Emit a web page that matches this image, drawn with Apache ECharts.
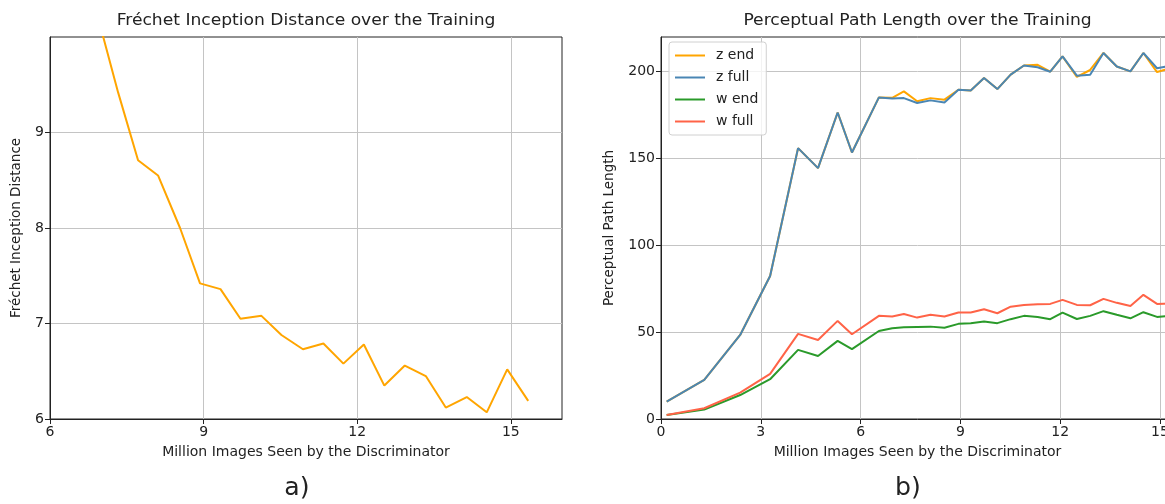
<!DOCTYPE html>
<html>
<head>
<meta charset="utf-8">
<script src="https://cdn.jsdelivr.net/npm/echarts@6/dist/echarts.min.js"></script>
<style>
  html, body { margin: 0; padding: 0; background: #fff; overflow: hidden; width: 1165px; height: 504px; }
  #chart { width: 1200px; height: 504px; }
</style>
</head>
<body>
<div id="chart"></div>
<script>
// Fréchet Inception Distance during training
const fidX = [6.93, 7.33, 7.72, 8.11, 8.54, 8.93, 9.33, 9.72, 10.13, 10.52, 10.94, 11.34, 11.73, 12.13, 12.53, 12.93, 13.34, 13.73, 14.14, 14.53, 14.93, 15.34];
const fidY = [10.22, 9.42, 8.71, 8.55, 8.0, 7.42, 7.36, 7.05, 7.08, 6.88, 6.73, 6.79, 6.58, 6.78, 6.35, 6.56, 6.45, 6.12, 6.23, 6.07, 6.52, 6.19];

// Perceptual Path Length during training
const pplX  = [0.17, 1.30, 2.38, 3.28, 4.12, 4.72, 5.31, 5.74, 6.55, 6.95, 7.30, 7.70, 8.10, 8.52, 8.94, 9.31, 9.71, 10.11, 10.51, 10.91, 11.32, 11.70, 12.07, 12.50, 12.90, 13.30, 13.70, 14.11, 14.50, 14.91, 15.31];
const zEnd  = [10.0, 22.5, 48.4, 82.4, 156, 144.5, 176.5, 153.5, 185.2, 185, 188.7, 183, 184.8, 183.9, 189.6, 189.2, 196.4, 190, 198.3, 203.6, 204, 200, 208.8, 197, 201, 210.8, 203, 200.2, 210.8, 199.8, 202];
const zFull = [10.0, 22.5, 48.4, 82.4, 156, 144.5, 176.5, 153.5, 185.2, 184.6, 184.8, 182, 183.5, 182.3, 189.6, 189.2, 196.4, 190, 198.3, 203.6, 202.6, 200, 208.8, 197.7, 198.3, 210.8, 203, 200.2, 210.8, 202, 203.5];
const wEnd  = [2.3, 5.4, 13.8, 22.9, 39.8, 36.3, 45, 40.2, 50.7, 52.3, 52.8, 53, 53.2, 52.6, 54.8, 55.2, 56.1, 55.2, 57.5, 59.4, 58.8, 57.5, 61.3, 57.6, 59.4, 62.1, 60, 58, 61.5, 58.8, 59.4];
const wFull = [2.3, 6.2, 15.2, 26, 49, 45.5, 56.5, 48.8, 59.4, 59, 60.5, 58.4, 60, 59, 61.3, 61.3, 63.2, 60.9, 64.7, 65.7, 66.1, 66.3, 68.6, 65.7, 65.5, 69.2, 66.9, 65.1, 71.5, 66.3, 66.5];

const fidXTicks = [6, 9, 12, 15];
const fidYTicks = [6, 7, 8, 9];
const pplXTicks = [0, 3, 6, 9, 12, 15];
const pplYTicks = [0, 50, 100, 150, 200];

const FONT = 'DejaVu Sans';
const INK = '#222';
const GRIDC = '#c4c4c4';

const pairs = (xs, ys) => xs.map((x, i) => [x, ys[i]]);

function valueAxis(gridIndex, min, max, ticks, name, nameGap, nameSize) {
  return {
    type: 'value',
    gridIndex: gridIndex,
    min: min,
    max: max,
    name: name,
    nameLocation: 'middle',
    nameGap: nameGap,
    nameTextStyle: { fontFamily: FONT, fontSize: nameSize, color: INK },
    axisLine: { show: true, onZero: false, lineStyle: { color: INK, width: 1 } },
    axisTick: { show: true, length: 5, customValues: ticks, lineStyle: { color: INK, width: 1 } },
    axisLabel: { customValues: ticks, fontFamily: FONT, fontSize: 14, color: INK, margin: 6 },
    splitLine: { show: true, lineStyle: { color: GRIDC, width: 1 } }
  };
}

function lineSeries(name, xi, data, color) {
  return {
    name: name,
    type: 'line',
    xAxisIndex: xi,
    yAxisIndex: xi,
    data: data,
    symbol: 'none',
    clip: true,
    itemStyle: { color: color },
    lineStyle: { color: color, width: 2 },
    emphasis: { disabled: true }
  };
}

function caption(text, x, y, size, sx) {
  return {
    type: 'text', x: x, y: y, scaleX: sx, originX: 0, originY: 0,
    style: { text: text, font: size + 'px "DejaVu Sans"', fill: INK, textAlign: 'center', textVerticalAlign: 'middle' }
  };
}

const chart = echarts.init(document.getElementById('chart'), null, { renderer: 'canvas' });

chart.setOption({
  animation: false,
  backgroundColor: '#fff',
  textStyle: { fontFamily: FONT },
  grid: [
    { left: 50, top: 37, width: 512, height: 382, show: true, borderColor: INK, borderWidth: 1, backgroundColor: 'transparent' },
    { left: 661, top: 37, width: 513, height: 382, show: true, borderColor: INK, borderWidth: 1, backgroundColor: 'transparent' }
  ],
  xAxis: [
    valueAxis(0, 6, 16, fidXTicks, 'Million Images Seen by the Discriminator', 26, 14),
    valueAxis(1, 0, 15.42, pplXTicks, 'Million Images Seen by the Discriminator', 26, 14)
  ],
  yAxis: [
    valueAxis(0, 6, 10, fidYTicks, 'Fréchet Inception Distance', 27, 13.5),
    valueAxis(1, 0, 220, pplYTicks, 'Perceptual Path Length', 45, 13.5)
  ],
  legend: {
    data: ['z end', 'z full', 'w end', 'w full'],
    orient: 'vertical',
    left: 669,
    top: 42,
    icon: 'rect',
    itemWidth: 30,
    itemHeight: 2,
    itemGap: 7,
    padding: [6, 8, 6, 6],
    borderColor: '#d0d0d0',
    borderWidth: 1,
    borderRadius: 3,
    backgroundColor: 'rgba(255,255,255,0.8)',
    selectedMode: false,
    textStyle: { fontFamily: FONT, fontSize: 14, color: INK, lineHeight: 15, padding: [0, 0, 0, 6] }
  },
  graphic: [
    caption('Fréchet Inception Distance over the Training', 306, 21, 16, 1.07),
    caption('Perceptual Path Length over the Training', 917.5, 21, 16, 1.07),
    caption('a)', 297, 489, 24, 1.05),
    caption('b)', 908, 489, 24, 1.05)
  ],
  series: [
    lineSeries('FID', 0, pairs(fidX, fidY), '#FFA500'),
    lineSeries('z end', 1, pairs(pplX, zEnd), '#FFA500'),
    lineSeries('z full', 1, pairs(pplX, zFull), '#4A86B4'),
    lineSeries('w end', 1, pairs(pplX, wEnd), '#2A9A2A'),
    lineSeries('w full', 1, pairs(pplX, wFull), '#FF6347')
  ]
});
</script>
</body>
</html>
